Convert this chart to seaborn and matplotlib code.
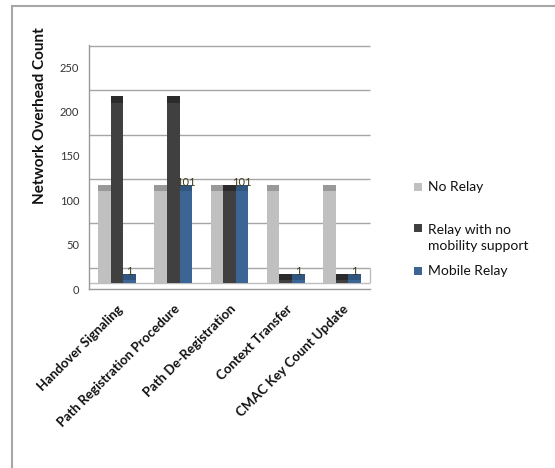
import matplotlib.pyplot as plt
import matplotlib.patches as mpatches
import numpy as np
import pandas as pd
import seaborn as sns

# chart data
categories = ["Handover Signaling", "Path Registration Procedure", "Path De-Registration",
              "Context Transfer", "CMAC Key Count Update"]
series = ["No Relay", "Relay with no\nmobility support", "Mobile Relay"]
no_relay = [101, 101, 101, 101, 101]
relay_no_mobility = [201, 201, 101, 1, 1]
mobile_relay = [1, 101, 101, 1, 1]
yticks = [0, 50, 100, 150, 200, 250]

face_colors = ["#c0c0c0", "#404040", "#3c6596"]
cap_colors = ["#999999", "#2b2b2b", "#30557f"]

# excel-like 3d look (style constants)
FLOOR = 7    # floor of the 3d box
LIFT = 16    # how far the drawn bar top sits above its value
CAP = 7      # height of the darker top face
WALL = 24    # back wall shift of the gridlines

df = pd.DataFrame({
    "task": categories * 3,
    "series": [s for s in series for _ in categories],
    "count": no_relay + relay_no_mobility + mobile_relay,
})

sns.set_style("white")
plt.rcParams['font.family'] = ['Lato', 'DejaVu Sans']

fig = plt.figure(figsize=(5.55, 4.68), dpi=100)
W, H = 555, 468
ax = fig.add_axes([89 / W, 1 - 289 / H, 281 / W, 244 / H])

sns.barplot(data=df, x="task", y="count", hue="series", order=categories,
            hue_order=series, palette=face_colors, saturation=1, width=0.67,
            errorbar=None, legend=False, linewidth=0, ax=ax, zorder=3)

# turn flat bars into the 3d-ish excel bars
for k, cont in enumerate(ax.containers):
    for bar in cont:
        h = bar.get_height()
        top = h + LIFT
        bar.set_y(FLOOR)
        bar.set_height(top - FLOOR)
        ax.add_patch(mpatches.Rectangle((bar.get_x(), top - CAP), bar.get_width(), CAP,
                                        facecolor=cap_colors[k], linewidth=0, zorder=4))

ax.bar_label(ax.containers[2], labels=[str(v) for v in mobile_relay], padding=-2,
             fontsize=8, color="#3f3a1c", zorder=5)

# back wall gridlines + floor
ax.hlines(np.array(yticks) + WALL, -0.5, 4.5, color="#a6a6a6", lw=1, zorder=1, clip_on=False)
ax.hlines(FLOOR, -0.5, 4.5, color="#bdbdbd", lw=1, zorder=1)
ax.vlines(4.5, FLOOR, WALL, color="#bdbdbd", lw=1, zorder=1, clip_on=False)

ax.set_xlim(-0.5, 4.5)
ax.set_ylim(0, 275)
ax.set_yticks(yticks)
ax.set_xticks(range(len(categories)))
ax.set_xticks(np.arange(-0.5, 5, 1), minor=True)
ax.set_xticklabels(categories, rotation=45, ha="right", rotation_mode="anchor",
                   fontsize=9.5, fontweight="bold", color="#111111")
ax.tick_params(axis="x", which="major", length=0, pad=10)
ax.tick_params(axis="x", which="minor", length=4, color="#888888", direction="out")
ax.tick_params(axis="y", length=4, color="#888888", direction="out", labelsize=8,
               labelcolor="#333333", pad=3)
ax.set_xlabel("")
ax.set_ylabel("")
for s in ["top", "right"]:
    ax.spines[s].set_visible(False)
for s in ["left", "bottom"]:
    ax.spines[s].set_color("#999999")
    ax.spines[s].set_linewidth(1)

fig.text(40 / W, 1 - 116 / H, "Network Overhead Count", rotation=90, ha="center",
         va="center", fontsize=11, fontweight="bold", color="#111111")

# legend drawn by hand (excel puts the key next to the first line)
leg_y = [187, 238, 271]
key_y = [187, 228, 271]
for name, col, ty, ky in zip(series, face_colors, leg_y, key_y):
    fig.add_artist(mpatches.Rectangle((414 / W, 1 - (ky + 4) / H), 8 / W, 8 / H,
                                      facecolor=col, linewidth=0, transform=fig.transFigure))
    fig.text(428 / W, 1 - ty / H, name, ha="left", va="center", fontsize=10,
             color="#111111", linespacing=1.35)

# outer frame of the chart object
fig.add_artist(mpatches.Rectangle((12 / W, -0.05), 1.1, 1.05 - 6 / H, fill=False,
                                  edgecolor="#a6a6a6", linewidth=1.5,
                                  transform=fig.transFigure))

fig.savefig("out.png", dpi=100)
